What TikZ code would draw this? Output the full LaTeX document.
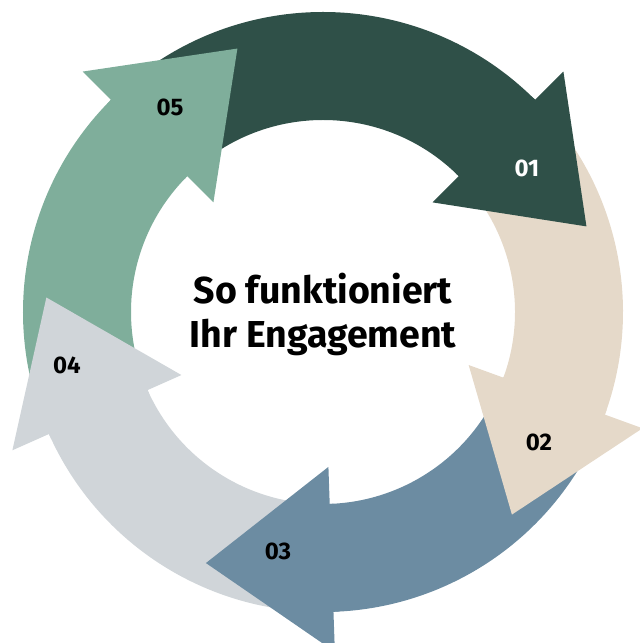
\documentclass[tikz,border=0pt]{standalone}
\usepackage{fontspec}
\setmainfont{Fira Sans}[BoldFont={Fira Sans Bold}]
\definecolor{cA}{HTML}{2F5048}
\definecolor{cB}{HTML}{E5D9C9}
\definecolor{cC}{HTML}{6C8CA2}
\definecolor{cD}{HTML}{D0D5D9}
\definecolor{cE}{HTML}{7FAE9B}
\newcommand{\bandseg}[3]{% color, from, to
  \fill[#1] ([shift={(#2:300)}]C) arc[start angle=#2, end angle=#3, radius=300]
    -- ([shift={(#3:192)}]C) arc[start angle=#3, end angle=#2, radius=192] -- cycle;}
\newcommand{\headtri}[2]{% color, base angle
  \bandseg{#1}{#2+1}{#2-3}
  \fill[#1] ([shift={(#2:155)}]C) -- ([shift={(#2:340)}]C) -- ([shift={(#2-27:277)}]C) -- cycle;}
\tikzset{lbl/.style={font=\bfseries\fontsize{24}{28}\selectfont, text=black},
         title/.style={font=\bfseries\fontsize{37.5}{44}\selectfont, align=center, text=black}}
\begin{document}
\begin{tikzpicture}[x=1pt,y=1pt]
\useasboundingbox (0,0) rectangle (640,643);
\coordinate (C) at (323,331);
\bandseg{cA}{135}{45}
\bandseg{cB}{45}{-20}
\bandseg{cC}{-20}{-88}
\bandseg{cD}{272}{204}
\bandseg{cE}{204}{135}
\headtri{cA}{45}
\headtri{cB}{-20}
\headtri{cC}{-88}
\headtri{cD}{204}
\headtri{cE}{135}
\node[lbl, text=white] (l1) at (527,475) {01};
\node[lbl] (l2) at (539,201) {02};
\node[lbl] (l3) at (278,92) {03};
\node[lbl] (l4) at (67,278) {04};
\node[lbl] (l5) at (170,536) {05};
\node[title] (t) at (323,329) {So funktioniert\\Ihr Engagement};
\end{tikzpicture}
\end{document}
